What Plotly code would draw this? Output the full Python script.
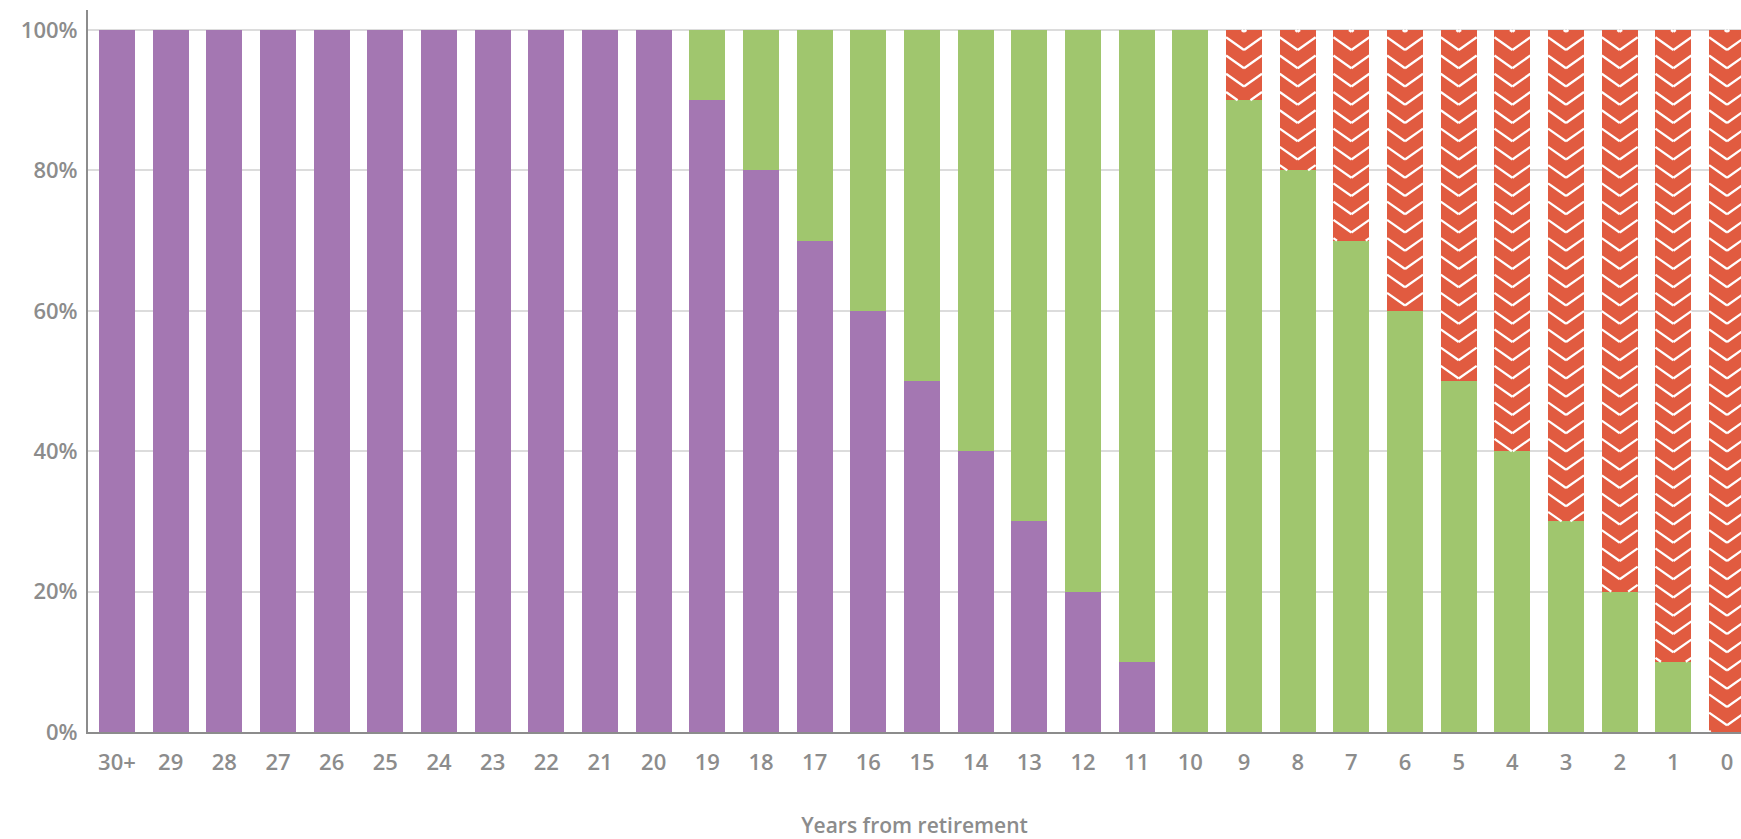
import plotly.graph_objects as go

# Years-from-retirement categories (left = furthest from retirement)
years = ["30+", "29", "28", "27", "26", "25", "24", "23", "22", "21", "20",
         "19", "18", "17", "16", "15", "14", "13", "12", "11", "10",
         "9", "8", "7", "6", "5", "4", "3", "2", "1", "0"]

# Share of allocation in each phase (percent)
growth = [100, 100, 100, 100, 100, 100, 100, 100, 100, 100, 100,
          90, 80, 70, 60, 50, 40, 30, 20, 10, 0,
          0, 0, 0, 0, 0, 0, 0, 0, 0, 0]
balanced = [0, 0, 0, 0, 0, 0, 0, 0, 0, 0, 0,
            10, 20, 30, 40, 50, 60, 70, 80, 90, 100,
            90, 80, 70, 60, 50, 40, 30, 20, 10, 0]
income = [0, 0, 0, 0, 0, 0, 0, 0, 0, 0, 0,
          0, 0, 0, 0, 0, 0, 0, 0, 0, 0,
          10, 20, 30, 40, 50, 60, 70, 80, 90, 100]

PURPLE = "#A477B2"
GREEN = "#A0C66E"
RED = "#E15B40"
GREY = "#8C8C8C"
FONT = "Open Sans"

BAR_W = 0.67
xpos = list(range(len(years)))

fig = go.Figure()
for vals, col in [(growth, PURPLE), (balanced, GREEN), (income, RED)]:
    fig.add_trace(go.Bar(x=xpos, y=vals, width=BAR_W, marker_color=col,
                         marker_line_width=0, hoverinfo="skip", showlegend=False))


# White chevron hatching over the income segment
def clip_y(p, q, lo, hi):
    (x1, y1), (x2, y2) = p, q
    dy = y2 - y1
    if dy == 0:
        return (p, q) if lo <= y1 <= hi else None
    ta, tb = (lo - y1) / dy, (hi - y1) / dy
    t0, t1 = max(0.0, min(ta, tb)), min(1.0, max(ta, tb))
    if t0 >= t1:
        return None
    return ((x1 + t0 * (x2 - x1), y1 + t0 * dy), (x1 + t1 * (x2 - x1), y1 + t1 * dy))


PERIOD = 2.6   # vertical spacing of chevrons (percent units)
DIP = 1.8      # depth of each chevron
cx, cy = [], []
for i, (g, b, r) in enumerate(zip(growth, balanced, income)):
    if r <= 0:
        continue
    lo, hi = g + b, g + b + r
    y0 = hi + PERIOD * 0.6
    while y0 - DIP > lo - PERIOD:
        left, mid, right = (i - BAR_W / 2, y0), (i, y0 - DIP), (i + BAR_W / 2, y0)
        for a, c in [(left, mid), (mid, right)]:
            seg = clip_y(a, c, lo, hi)
            if seg:
                cx += [seg[0][0], seg[1][0], None]
                cy += [seg[0][1], seg[1][1], None]
        y0 -= PERIOD

fig.add_trace(go.Scatter(x=cx, y=cy, mode="lines",
                         line=dict(color="white", width=2.3),
                         hoverinfo="skip", showlegend=False))

tick_font = dict(family=FONT, size=22, color=GREY, weight=600)

fig.update_layout(
    barmode="stack",
    width=1741, height=839,
    margin=dict(l=88, r=0, t=10, b=107),
    plot_bgcolor="white", paper_bgcolor="white",
    font=dict(family=FONT, color=GREY, size=21),
    xaxis=dict(
        range=[-0.54, 30.26],
        tickmode="array", tickvals=xpos, ticktext=years,
        showgrid=False, zeroline=False,
        showline=True, linecolor=GREY, linewidth=2,
        ticks="outside", ticklen=10, tickcolor="rgba(0,0,0,0)",
        tickfont=tick_font,
        title=dict(text="Years from retirement", standoff=43,
                   font=dict(family=FONT, size=21, color=GREY, weight=600)),
    ),
    yaxis=dict(
        range=[0, 102.85],
        tickvals=[0, 20, 40, 60, 80, 100],
        ticktext=["0%", "20%", "40%", "60%", "80%", "100%"],
        showgrid=True, gridcolor="#DCDCDC", gridwidth=2,
        zeroline=False,
        showline=True, linecolor=GREY, linewidth=2,
        ticks="outside", ticklen=4, tickcolor="rgba(0,0,0,0)",
        tickfont=tick_font,
    ),
)

fig.write_html("out.html")
